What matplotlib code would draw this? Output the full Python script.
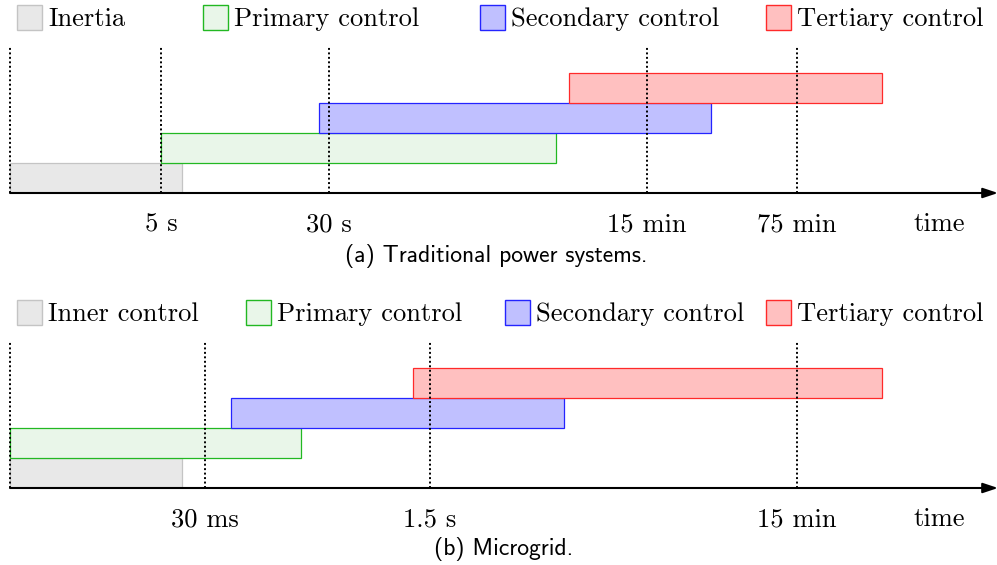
import matplotlib
matplotlib.use("Agg")
import matplotlib.pyplot as plt
from matplotlib.patches import Rectangle

# timeline positions are in drawing units along the (non-linear) time axis
names_a = ["Inertia", "Primary control", "Secondary control", "Tertiary control"]
start_a = [10, 161, 319, 569]
end_a = [182, 556, 711, 882]
ticks_a = [161, 329, 647, 797]
ticklabels_a = ["5 s", "30 s", "15 min", "75 min"]

names_b = ["Inner control", "Primary control", "Secondary control", "Tertiary control"]
start_b = [10, 10, 231, 413]
end_b = [182, 301, 564, 882]
ticks_b = [205, 430, 797]
ticklabels_b = ["30 ms", "1.5 s", "15 min"]

fills = ["#e8e8e8", "#e9f6e9", "#c0c0ff", "#ffc0c0"]
edges = ["#c4c4c4", "#22b822", "#2424ff", "#ff2a2a"]

W, H = 997, 565
fig = plt.figure(figsize=(W / 100, H / 100), dpi=100)

serif = "cmr10"
sans = "cmss10"
fs = 19.1


def panel(axis_px, names, start, end, ticks, ticklabels, legend_x, caption, cap_x, cap_px):
    # axes: 5 units tall, 30 px per unit, bottom at the time axis
    ax = fig.add_axes([0, (H - axis_px) / H, 1, 150 / H])
    ax.set_xlim(0, W)
    ax.set_ylim(0, 5)
    ax.axis("off")

    for i in range(len(names)):
        ax.barh(i + 0.5, end[i] - start[i], left=start[i], height=1,
                color=fills[i], edgecolor=edges[i], linewidth=0.9, zorder=2)

    ax.vlines([10] + ticks, 0, 4.9, colors="k", linestyles=(0, (1, 1.3)),
              linewidth=1.4, zorder=3)

    ax.annotate("", xy=(W + 1, 0), xytext=(10, 0),
                arrowprops=dict(arrowstyle="-|>,head_length=0.9,head_width=0.3",
                                color="k", lw=1.5, shrinkA=0, shrinkB=0),
                annotation_clip=False, zorder=4)

    for t, lab in zip(ticks, ticklabels):
        ax.text(t, -1.05, lab, ha="center", va="center", fontsize=fs,
                family=serif, clip_on=False)
    ax.text(939, -1.05, "time", ha="center", va="center", fontsize=fs,
            family=serif, clip_on=False)

    # legend row
    for i, (lx, name) in enumerate(zip(legend_x, names)):
        ax.add_patch(Rectangle((lx, 5.42), 25, 25 / 30, facecolor=fills[i],
                               edgecolor=edges[i], linewidth=1.0, clip_on=False))
        ax.text(lx + 31, 5.80, name, ha="left", va="center", fontsize=fs,
                family=serif, clip_on=False)

    fig.text(cap_x / W, 1 - cap_px / H, caption, ha="center", va="center",
             fontsize=17, family=sans)
    return ax


panel(193, names_a, start_a, end_a, ticks_a, ticklabels_a, [17, 203, 480, 766],
      "(a) Traditional power systems.", 496, 256)
panel(488, names_b, start_b, end_b, ticks_b, ticklabels_b, [17, 246, 505, 766],
      "(b) Microgrid.", 504, 549)

fig.savefig("out.png", dpi=100)
